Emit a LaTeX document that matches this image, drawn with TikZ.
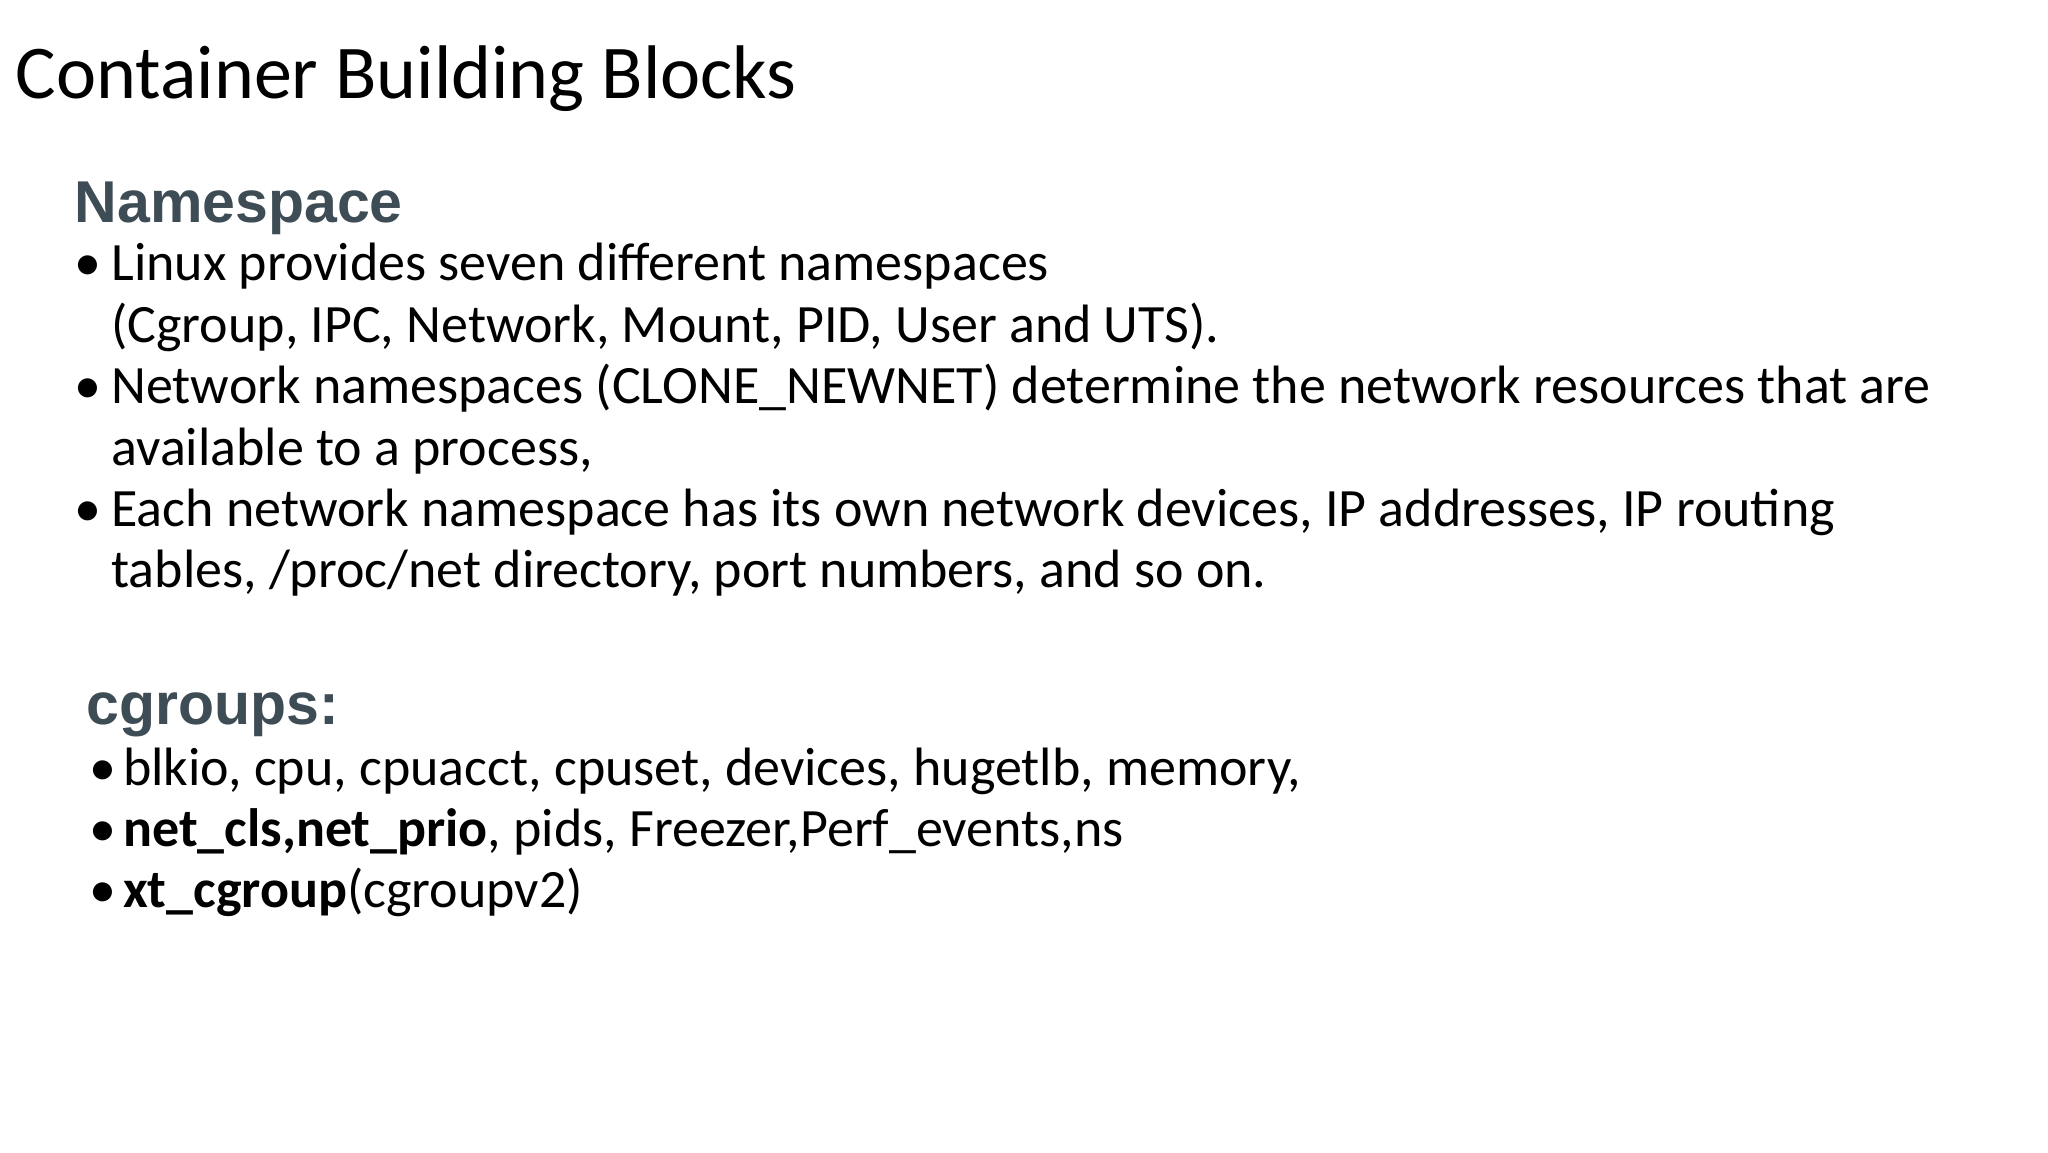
\documentclass[tikz,border=0pt]{standalone}
\usepackage{fontspec}
\setmainfont{Carlito}
\newfontfamily\headfont{Liberation Sans}
\definecolor{headcol}{HTML}{3E4C56}
\begin{document}
\begin{tikzpicture}[x=1pt,y=1pt,
  txt/.style={anchor=base west,inner sep=0pt,font=\fontsize{27}{30}\selectfont},
  head/.style={anchor=base west,inner sep=0pt,text=headcol,font=\headfont\bfseries\fontsize{29.5}{32}\selectfont}]
\useasboundingbox[fill=white] (0,0) rectangle (1024,-576);
\node[anchor=base west,inner sep=0pt,font=\fontsize{38}{42}\selectfont] (title) at (7.8,-49) {Container Building Blocks};
\node[head] (ns) at (37.2,-111) {Namespace};
\node[txt] (b1) at (37.2,-140.4) {•};
\node[txt] (l1) at (55.5,-140.4) {Linux provides seven different namespaces};
\node[txt] (l2) at (55.5,-171.1) {(Cgroup, IPC, Network, Mount, PID, User and UTS).};
\node[txt] (b2) at (37.2,-201.8) {•};
\node[txt] (l3) at (55.5,-201.8) {Network namespaces (CLONE\_NEWNET) determine the network resources that are};
\node[txt] (l4) at (55.5,-232.5) {available to a process,};
\node[txt] (b3) at (37.2,-263.2) {•};
\node[txt] (l5) at (55.5,-263.2) {Each network namespace has its own network devices, IP addresses, IP routing};
\node[txt] (l6) at (55.5,-293.9) {tables, /proc/net directory, port numbers, and so on.};
\node[head] (cg) at (43.1,-362.4) {cgroups:};
\node[txt] (c1b) at (44.4,-392.5) {•};
\node[txt] (c1) at (61.4,-392.5) {blkio, cpu, cpuacct, cpuset, devices, hugetlb, memory,};
\node[txt] (c2b) at (44.4,-423.1) {•};
\node[txt] (c2) at (61.4,-423.1) {\textbf{net\_cls,net\_prio}, pids, Freezer,Perf\_events,ns};
\node[txt] (c3b) at (44.4,-453.8) {•};
\node[txt] (c3) at (61.4,-453.8) {\textbf{xt\_cgroup}(cgroupv2)};
\end{tikzpicture}
\end{document}
